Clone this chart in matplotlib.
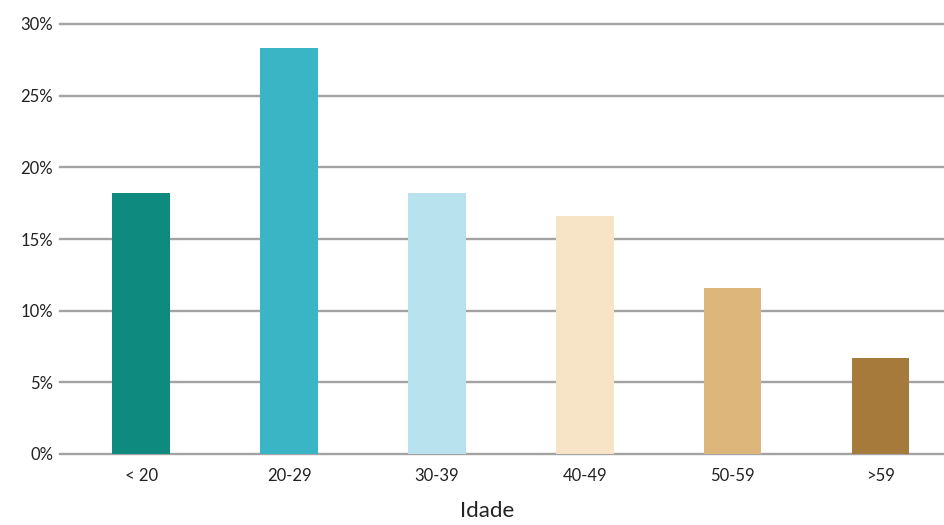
import matplotlib
matplotlib.use("Agg")
import matplotlib.pyplot as plt
from matplotlib.ticker import FuncFormatter

categories = ["< 20", "20-29", "30-39", "40-49", "50-59", ">59"]
values = [18.2, 28.3, 18.2, 16.6, 11.6, 6.7]
colors = ["#0e8a7f", "#3ab5c5", "#b8e2ee", "#f7e4c6", "#ddb67c", "#a57a3a"]
yticks = [0, 5, 10, 15, 20, 25, 30]

plt.rcParams['font.family'] = ['Lato', 'DejaVu Sans']

fig = plt.figure(figsize=(9.44, 5.25), dpi=100)
ax = fig.add_axes([60/944, 71/525, 884/944, 430/525])

x = list(range(len(categories)))
ax.bar(x, values, width=0.39, color=colors, zorder=3)

ax.set_xlim(-0.55, 5.43)
ax.set_ylim(0, 30)
ax.set_yticks(yticks)
ax.yaxis.set_major_formatter(FuncFormatter(lambda v, p: f"{int(v)}%"))
ax.set_xticks(x)
ax.set_xticklabels(categories)

for t in yticks:
    ax.axhline(t, color="#a3a3a3", lw=1.7, zorder=1, clip_on=False)

for s in ax.spines.values():
    s.set_visible(False)
ax.tick_params(axis='both', length=0, labelsize=12, colors="#222222")
ax.tick_params(axis='y', pad=5)
ax.tick_params(axis='x', pad=10)

fig.text(487/944, 14/525, "Idade", ha="center", va="center", fontsize=16, color="#222222")

fig.savefig("out.png", dpi=100)
